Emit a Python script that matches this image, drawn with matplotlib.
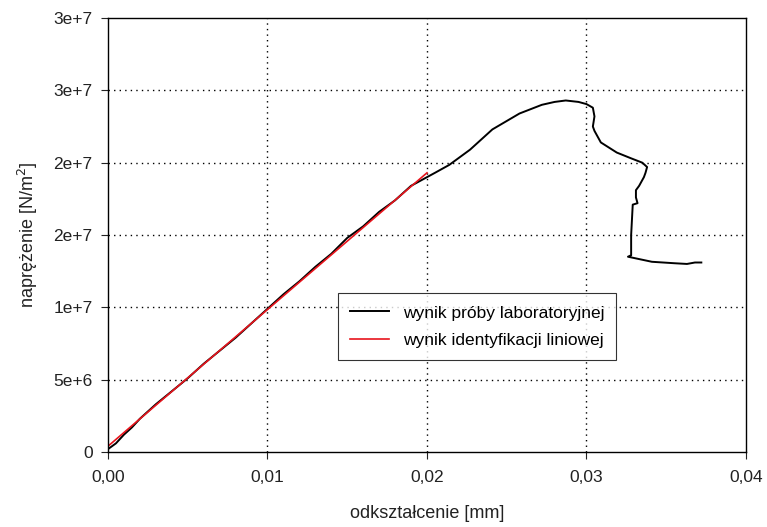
import matplotlib
matplotlib.use("Agg")
import matplotlib.pyplot as plt

plt.rcParams["font.family"] = ["Liberation Sans", "DejaVu Sans"]

# laboratory test (black) - strain [mm], stress [N/m2]
lab_x = [0.0, 0.0005, 0.0010, 0.0015, 0.0020, 0.0030, 0.0040, 0.0050, 0.0060,
         0.0070, 0.0080, 0.0090, 0.0100, 0.0110, 0.0120, 0.0130, 0.0140,
         0.0150, 0.0160, 0.0170, 0.0180, 0.0190, 0.0195, 0.0205, 0.0214,
         0.0227, 0.0241, 0.0258, 0.0272, 0.0280, 0.0287, 0.0295, 0.0300,
         0.0304, 0.0305, 0.0304, 0.0305, 0.0309, 0.0319, 0.0328, 0.0335,
         0.0338, 0.0337, 0.0336, 0.0333, 0.0331, 0.0331, 0.0332, 0.0329,
         0.0328, 0.0328, 0.0326, 0.0341, 0.0355, 0.0363, 0.0368, 0.0372]
lab_y = [0.2e6, 0.6e6, 1.2e6, 1.7e6, 2.3e6, 3.3e6, 4.2e6, 5.1e6, 6.1e6,
         7.0e6, 7.9e6, 8.9e6, 9.9e6, 10.9e6, 11.8e6, 12.8e6, 13.7e6,
         14.8e6, 15.6e6, 16.6e6, 17.4e6, 18.4e6, 18.7e6, 19.3e6, 19.85e6,
         20.9e6, 22.3e6, 23.4e6, 24.0e6, 24.2e6, 24.3e6, 24.2e6, 24.05e6,
         23.8e6, 23.2e6, 22.5e6, 22.2e6, 21.4e6, 20.7e6, 20.3e6, 20.0e6,
         19.7e6, 19.3e6, 19.0e6, 18.4e6, 18.1e6, 17.6e6, 17.2e6, 17.1e6,
         15.0e6, 13.6e6, 13.5e6, 13.15e6, 13.05e6, 13.0e6, 13.1e6, 13.1e6]

# linear identification (red)
lin_x = [0.0, 0.02]
lin_y = [0.4e6, 19.3e6]

y_ticks = [0, 5e6, 1e7, 1.5e7, 2e7, 2.5e7, 3e7]
y_labels = ["0", "5e+6", "1e+7", "2e+7", "2e+7", "3e+7", "3e+7"]
x_ticks = [0.0, 0.01, 0.02, 0.03, 0.04]
x_labels = ["0,00", "0,01", "0,02", "0,03", "0,04"]

fig = plt.figure(figsize=(7.67, 5.27), dpi=100)
ax = fig.add_axes([0.1408, 0.1423, 0.8318, 0.8235])

ax.plot(lab_x, lab_y, color="black", linewidth=1.4,
        label="wynik próby laboratoryjnej")
ax.plot(lin_x, lin_y, color="#e8141c", linewidth=1.2,
        label="wynik identyfikacji liniowej")

ax.set_xlim(0, 0.04)
ax.set_ylim(0, 3e7)
ax.set_xticks(x_ticks)
ax.set_xticklabels(x_labels)
ax.set_yticks(y_ticks)
ax.set_yticklabels(y_labels)
ax.tick_params(direction="out", length=5, width=0.8, labelsize=12.5,
               colors="#222222", pad=6)
ax.tick_params(axis="x", pad=8)

for t in x_ticks[1:-1]:
    ax.axvline(t, color="black", linestyle=(0, (1, 3)), linewidth=1.0, zorder=0)
for t in y_ticks[1:-1]:
    ax.axhline(t, color="black", linestyle=(0, (1, 3)), linewidth=1.0, zorder=0)

for s in ax.spines.values():
    s.set_linewidth(1.0)

ax.set_xlabel("odkształcenie [mm]", fontsize=13, labelpad=14, color="#222222")
ax.set_ylabel("naprężenie [N/m$^2$]", fontsize=13, labelpad=10, color="#222222")

leg = ax.legend(loc="lower left", bbox_to_anchor=(0.361, 0.212), fontsize=12.5,
                frameon=True, fancybox=False, edgecolor="black",
                borderpad=0.7, handlelength=2.2, labelspacing=0.7,
                handletextpad=0.8, borderaxespad=0)
leg.get_frame().set_linewidth(0.8)

fig.savefig("out.png", dpi=100)
